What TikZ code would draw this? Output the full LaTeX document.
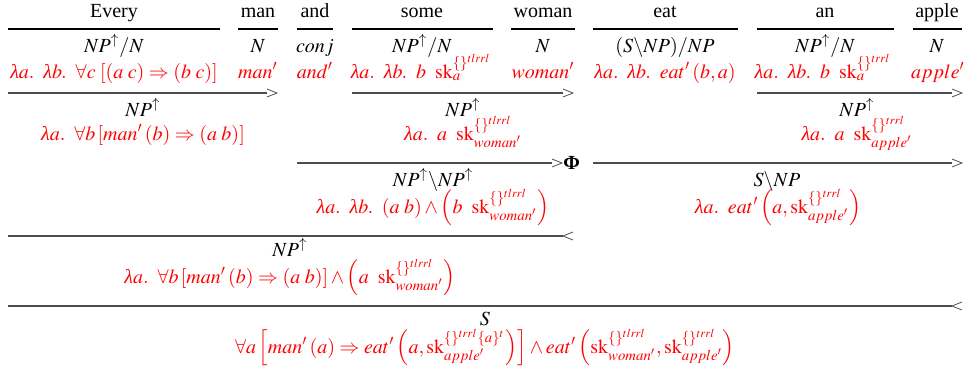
\documentclass[tikz,border=0pt]{standalone}
\usepackage{mathptmx}
\usepackage[no-math]{fontspec}
\setmainfont{Liberation Serif}
\newcommand\lam{\mbox{\textit{λ}}}
\newcommand\skf{\mathrm{sk}}
\newcommand\dsp{\mskip 8mu}
\tikzset{
  lbl/.style={inner sep=0pt, anchor=base, font=\fontsize{10}{12}\selectfont},
  sem/.style={lbl, text=red},
  wline/.style={draw=black, line width=0.7pt},
  rline/.style={draw=black!70, line width=0.7pt},
  rtip/.style={draw=black!70, line width=0.4pt},
}
\begin{document}
\begin{tikzpicture}[x=0.5pt,y=-0.5pt]
\useasboundingbox (0,0) rectangle (966,371);
% words
\node[lbl] (w1) at (114,17) {Every};
\node[lbl] (w2) at (258,17) {man};
\node[lbl] (w3) at (315,17) {and};
\node[lbl] (w4) at (422,17) {some};
\node[lbl] (w5) at (543,17) {woman};
\node[lbl] (w6) at (665,17) {eat};
\node[lbl] (w7) at (825,17) {an};
\node[lbl] (w8) at (937,17) {apple};
% word lines
\draw[wline] (8,29) -- (220,29);
\draw[wline] (238,29) -- (278,29);
\draw[wline] (297,29) -- (333,29);
\draw[wline] (352,29) -- (493,29);
\draw[wline] (511,29) -- (575,29);
\draw[wline] (593,29) -- (738,29);
\draw[wline] (757,29) -- (894,29);
\draw[wline] (913,29) -- (962,29);
% categories
\node[lbl] (c1) at (114,52) {$NP^{\uparrow}/N$};
\node[lbl] (c2) at (258,52) {$N$};
\node[lbl] (c3) at (315,52) {$conj$};
\node[lbl] (c4) at (422,52) {$NP^{\uparrow}/N$};
\node[lbl] (c5) at (543,52) {$N$};
\node[lbl] (c6) at (665,52) {$(S\backslash NP)/NP$};
\node[lbl] (c7) at (825,52) {$NP^{\uparrow}/N$};
\node[lbl] (c8) at (937,52) {$N$};
% semantics
\node[sem] (s1) at (114,78) {$\lam a.\dsp\lam b.\dsp\forall c\;[(a\;c)\Rightarrow(b\;c)]$};
\node[sem] (s2) at (258,78) {$man'$};
\node[sem] (s3) at (315,78) {$and'$};
\node[sem] (s4) at (421,78) {$\lam a.\dsp\lam b.\dsp b\;\;\skf_a^{\{\}^{tlrrl}}$};
\node[sem] (s5) at (543,78) {$woman'$};
\node[sem] (s6) at (665,78) {$\lam a.\dsp\lam b.\dsp eat'\,(b,a)$};
\node[sem] (s7) at (823,78) {$\lam a.\dsp\lam b.\dsp b\;\;\skf_a^{\{\}^{trrl}}$};
\node[sem] (s8) at (938,78) {$apple'$};
% rule lines level 2
\draw[rline] (8,93) -- (267,93);
\draw[rtip] (267,89) -- (277,93) -- (267,97);
\draw[rline] (352,93) -- (563,93);
\draw[rtip] (563,89) -- (573,93) -- (563,97);
\draw[rline] (757,93) -- (952,93);
\draw[rtip] (952,89) -- (962,93) -- (952,97);
% results level 2
\node[lbl] (r1) at (143,116) {$NP^{\uparrow}$};
\node[sem] (q1) at (143,140) {$\lam a.\dsp\forall b\,[man'\,(b)\Rightarrow(a\;b)]$};
\node[lbl] (r2) at (463,116) {$NP^{\uparrow}$};
\node[sem] (q2) at (463,140) {$\lam a.\dsp a\;\;\skf_{woman'}^{\{\}^{tlrrl}}$};
\node[lbl] (r3) at (857,116) {$NP^{\uparrow}$};
\node[sem] (q3) at (857,140) {$\lam a.\dsp a\;\;\skf_{apple'}^{\{\}^{trrl}}$};
% rule lines level 3
\draw[rline] (297,163) -- (552,163);
\draw[rtip] (552,159) -- (562,163) -- (552,167);
\node[lbl, anchor=west] (phi) at (563,163) {\textbf{Φ}};
\draw[rline] (593,163) -- (952,163);
\draw[rtip] (952,159) -- (962,163) -- (952,167);
% results level 3
\node[lbl] (r4) at (433,186) {$NP^{\uparrow}\backslash NP^{\uparrow}$};
\node[sem] (q4) at (433,213) {$\lam a.\dsp\lam b.\dsp(a\;b)\wedge\left(b\;\;\skf_{woman'}^{\{\}^{tlrrl}}\right)$};
\node[lbl] (r5) at (777,186) {$S\backslash NP$};
\node[sem] (q5) at (778,213) {$\lam a.\dsp eat'\left(a,\skf_{apple'}^{\{\}^{trrl}}\right)$};
% level 4
\draw[rline] (8,236) -- (563,236);
\draw[rtip] (573,232) -- (563,236) -- (573,240);
\node[lbl] (r6) at (290,256) {$NP^{\uparrow}$};
\node[sem] (q6) at (290,283) {$\lam a.\dsp\forall b\,[man'\,(b)\Rightarrow(a\;b)]\wedge\left(a\;\;\skf_{woman'}^{\{\}^{tlrrl}}\right)$};
% level 5
\draw[rline] (8,306) -- (952,306);
\draw[rtip] (962,302) -- (952,306) -- (962,310);
\node[lbl] (r7) at (485,325) {$S$};
\node[sem] (q7) at (485,353) {$\forall a\left[man'\,(a)\Rightarrow eat'\left(a,\skf_{apple'}^{\{\}^{trrl}\{a\}^t}\right)\right]\wedge eat'\left(\skf_{woman'}^{\{\}^{tlrrl}},\skf_{apple'}^{\{\}^{trrl}}\right)$};
\end{tikzpicture}
\end{document}
